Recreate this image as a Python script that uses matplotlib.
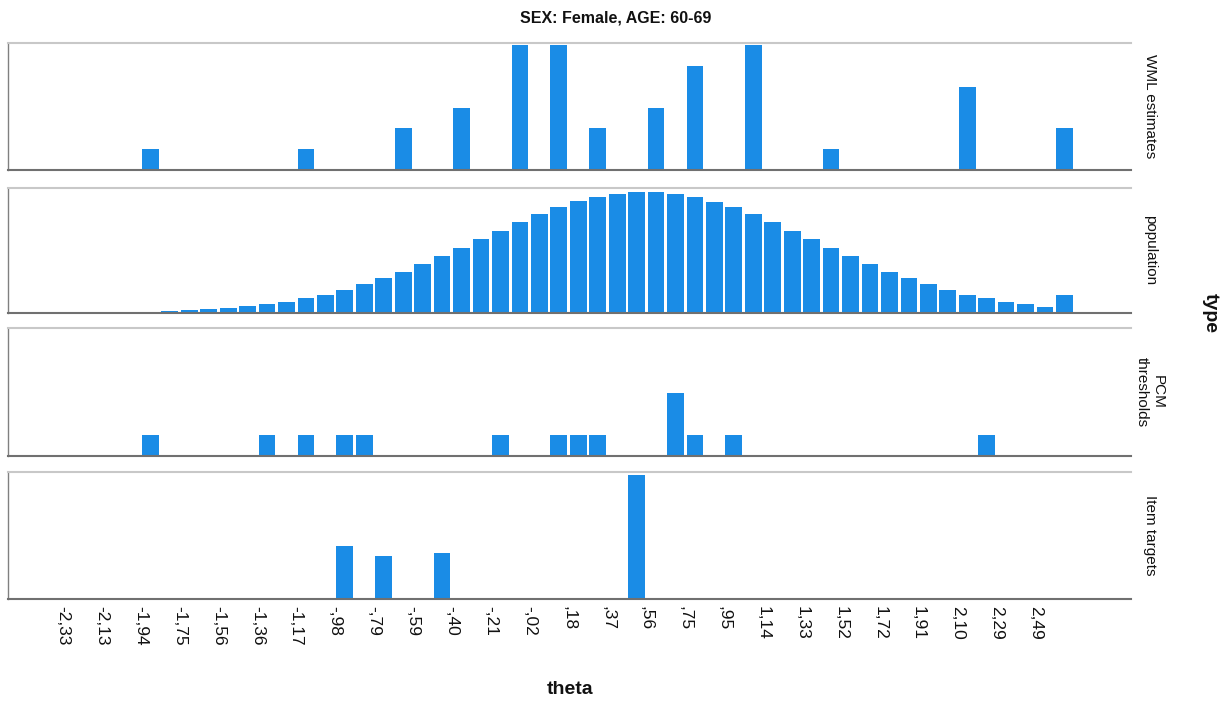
import numpy as np
import matplotlib
matplotlib.use("Agg")
import matplotlib.pyplot as plt

plt.rcParams['font.family'] = ['Liberation Sans', 'DejaVu Sans']

# histogram bins (index 0..51), tick labels sit on every other bin edge
n_bins = 52
tick_labels = ['-2,33', '-2,13', '-1,94', '-1,75', '-1,56', '-1,36', '-1,17',
               '-,98', '-,79', '-,59', '-,40', '-,21', '-,02', ',18', ',37',
               ',56', ',75', ',95', '1,14', '1,33', '1,52', '1,72', '1,91',
               '2,10', '2,29', '2,49']

# WML estimates
wml_bins = [4, 12, 17, 20, 23, 25, 27, 30, 32, 35, 39, 46, 51]
wml_counts = [1, 1, 2, 3, 6, 6, 2, 3, 5, 6, 1, 4, 2]

# population (relative height)
population = [0.004, 0.004, 0.005, 0.006, 0.008, 0.016, 0.023, 0.031, 0.039,
              0.055, 0.070, 0.091, 0.119, 0.148, 0.187, 0.229, 0.278, 0.332,
              0.390, 0.455, 0.522, 0.592, 0.660, 0.727, 0.790, 0.847, 0.894,
              0.928, 0.956, 0.969, 0.969, 0.956, 0.930, 0.891, 0.847, 0.790,
              0.727, 0.660, 0.592, 0.522, 0.455, 0.390, 0.332, 0.278, 0.229,
              0.187, 0.148, 0.119, 0.091, 0.070, 0.052, 0.143]

# PCM thresholds
pcm_bins = [4, 10, 12, 14, 15, 22, 25, 26, 27, 31, 32, 34, 47]
pcm_counts = [1, 1, 1, 1, 1, 1, 1, 1, 1, 3, 1, 1, 1]

# Item targets
target_bins = [14, 16, 19, 29]
target_values = [3.0, 2.4, 2.6, 7.0]

blue = '#1a8ce6'
W, H = 1231, 709
fig = plt.figure(figsize=(W / 100, H / 100), dpi=100)

left, right = 8, 1131
panels = [
    (43, 170, 'WML estimates', wml_bins, wml_counts, 6.1),
    (188, 313, 'population', list(range(n_bins)), population, 1.0),
    (328, 456, 'PCM\nthresholds', pcm_bins, pcm_counts, 6.1),
    (472, 599, 'Item targets', target_bins, target_values, 7.17),
]

tick_pos = [2 * k - 0.5 for k in range(len(tick_labels))]

for i, (top, bottom, name, xs, ys, ymax) in enumerate(panels):
    ax = fig.add_axes([left / W, 1 - bottom / H, (right - left) / W, (bottom - top) / H])
    ax.bar(xs, ys, width=0.86, color=blue, linewidth=0)
    ax.set_xlim(-3.32, 54.42)
    ax.set_ylim(0, ymax)
    ax.set_yticks([])
    ax.spines['right'].set_visible(False)
    ax.spines['top'].set_color('#c8c8c8')
    ax.spines['top'].set_linewidth(1.5)
    ax.spines['bottom'].set_color('#707070')
    ax.spines['bottom'].set_linewidth(1.5)
    ax.spines['left'].set_color('#808080')
    ax.spines['left'].set_linewidth(1.0)
    ax.set_xticks(tick_pos)
    ax.tick_params(axis='x', length=0, pad=5)
    if i == len(panels) - 1:
        ax.set_xticklabels(tick_labels, rotation=-90, fontsize=12.5, color='#111111',
                           va='top', ha='center')
    else:
        ax.set_xticklabels([])
    fig.text(1150 / W, 1 - (top + bottom) / 2 / H, name, rotation=-90, fontsize=11,
             ha='center', va='center', color='#111111', multialignment='center')

fig.text(616 / W, 1 - 18 / H, 'SEX: Female, AGE: 60-69', fontsize=11.5,
         fontweight='bold', ha='center', va='center', color='#111111')
fig.text(570 / W, 1 - 690 / H, 'theta', fontsize=14, fontweight='bold',
         ha='center', va='center', color='#111111')
fig.text(1210 / W, 1 - 313 / H, 'type', rotation=-90, fontsize=14, fontweight='bold',
         ha='center', va='center', color='#111111')

fig.savefig('out.png', dpi=100)
